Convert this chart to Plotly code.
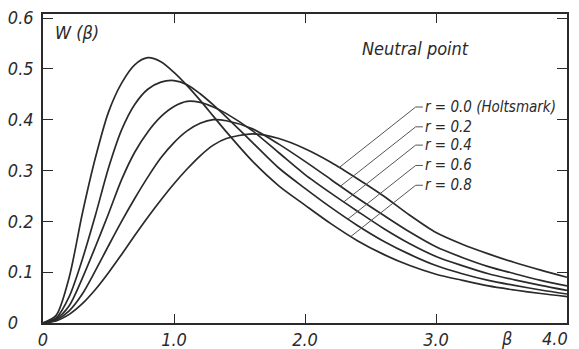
import numpy as np
import plotly.graph_objects as go

beta = [0, 0.1, 0.2, 0.3, 0.4, 0.5, 0.6, 0.7, 0.8, 0.9, 1.0, 1.1, 1.2, 1.3, 1.4,
        1.6, 1.8, 2.0, 2.2, 2.4, 2.6, 2.8, 3.0, 3.2, 3.4, 3.6, 3.8, 4.0]

w_r00 = [0, 0.004, 0.017, 0.038, 0.066, 0.099, 0.135, 0.172, 0.208, 0.242, 0.274, 0.303, 0.329, 0.350, 0.363,
         0.372, 0.363, 0.343, 0.316, 0.284, 0.250, 0.212, 0.178, 0.155, 0.136, 0.119, 0.104, 0.090]
w_r02 = [0, 0.006, 0.024, 0.057, 0.103, 0.152, 0.200, 0.245, 0.287, 0.325, 0.355, 0.378, 0.393, 0.400, 0.398,
         0.382, 0.352, 0.318, 0.282, 0.246, 0.212, 0.179, 0.150, 0.129, 0.111, 0.097, 0.084, 0.073]
w_r04 = [0, 0.008, 0.034, 0.088, 0.150, 0.215, 0.282, 0.336, 0.376, 0.406, 0.426, 0.436, 0.434, 0.425, 0.412,
         0.378, 0.335, 0.292, 0.255, 0.220, 0.186, 0.156, 0.131, 0.113, 0.097, 0.085, 0.074, 0.064]
w_r06 = [0, 0.010, 0.052, 0.125, 0.212, 0.305, 0.380, 0.430, 0.460, 0.474, 0.477, 0.469, 0.451, 0.429, 0.405,
         0.355, 0.305, 0.265, 0.227, 0.192, 0.161, 0.135, 0.113, 0.097, 0.084, 0.074, 0.065, 0.057]
w_r08 = [0, 0.015, 0.090, 0.215, 0.325, 0.415, 0.472, 0.508, 0.522, 0.514, 0.493, 0.467, 0.438, 0.407, 0.376,
         0.318, 0.270, 0.232, 0.195, 0.162, 0.135, 0.113, 0.096, 0.084, 0.073, 0.065, 0.058, 0.052]

series = [w_r00, w_r02, w_r04, w_r06, w_r08]
labels = ["r = 0.0 (Holtsmark)", "r = 0.2", "r = 0.4", "r = 0.6", "r = 0.8"]

x_ticks = [0, 1, 2, 3, 4]
x_ticktext = ["0", "1.0", "2.0", "3.0", ""]
y_ticks = [0, 0.1, 0.2, 0.3, 0.4, 0.5, 0.6]
y_ticktext = ["0\u2008\u2007", "0.1", "0.2", "0.3", "0.4", "0.5", "0.6"]

FONT = "Liberation Sans Narrow, DejaVu Sans Condensed, Roboto, sans-serif"
INK = "#2a2a2a"

fig = go.Figure()
for w in series:
    fig.add_trace(go.Scatter(x=beta, y=w, mode="lines",
                             line=dict(color=INK, width=1.7, shape="spline", smoothing=0.8),
                             showlegend=False, hoverinfo="skip"))

# leader lines and labels
label_x = 2.905
knee_x = 2.845
label_y = [0.425, 0.386, 0.350, 0.310, 0.271]
slope = 0.2037  # W per beta for leader diagonals
fine = np.linspace(1.8, 3.0, 1201)
for w, lab, ly in zip(series, labels, label_y):
    curve = np.interp(fine, beta, w)
    line = ly - slope * (knee_x - fine)
    idx = np.argmin(np.abs(curve - line))
    bx, by = fine[idx], curve[idx]
    fig.add_trace(go.Scatter(x=[label_x - 0.005, knee_x, bx], y=[ly, ly, by], mode="lines",
                             line=dict(color="#555555", width=1.0),
                             showlegend=False, hoverinfo="skip"))
    fig.add_annotation(x=label_x, y=ly, text=lab, showarrow=False, xanchor="left",
                       yanchor="middle", borderpad=0,
                       font=dict(family=FONT, size=15, color=INK, style="italic"))

fig.add_annotation(x=0.08, y=0.572, text="W (β)", showarrow=False, xanchor="left", yanchor="middle",
                   font=dict(family=FONT, size=18, color=INK, style="italic"))
fig.add_annotation(x=2.42, y=0.54, text="Neutral point", showarrow=False, xanchor="left", yanchor="middle",
                   font=dict(family=FONT, size=18, color=INK, style="italic"))
fig.add_annotation(x=3.54, y=-0.05, yref="paper", text="β", showarrow=False, xanchor="center",
                   yanchor="middle",
                   font=dict(family=FONT, size=18, color=INK, style="italic"))
fig.add_annotation(x=1.0, xref="paper", y=-0.05, yref="paper", text="4.0", showarrow=False,
                   xanchor="right", yanchor="middle", xshift=3,
                   font=dict(family=FONT, size=18, color=INK, style="italic"))

axis_common = dict(showgrid=False, zeroline=False, showline=True, linecolor=INK, linewidth=1.6,
                   mirror="ticks", ticks="inside", tickcolor=INK, tickwidth=1.4, automargin=False,
                   ticklabeloverflow="allow",
                   tickfont=dict(family=FONT, size=18, color=INK, style="italic"))

fig.update_xaxes(range=[0, 4], tickvals=x_ticks, ticktext=x_ticktext, ticklen=9, **axis_common)
fig.update_yaxes(range=[0, 0.608], tickvals=y_ticks, ticktext=y_ticktext, ticklen=10,
                 ticklabelstandoff=4, **axis_common)

# page body adds an 8px offset, so margins are set to place the plot area at 43..567 x 14..323
fig.update_layout(width=579, height=349, margin=dict(l=35, r=20, t=6, b=34),
                  plot_bgcolor="white", paper_bgcolor="white")

fig.write_html("out.html")
